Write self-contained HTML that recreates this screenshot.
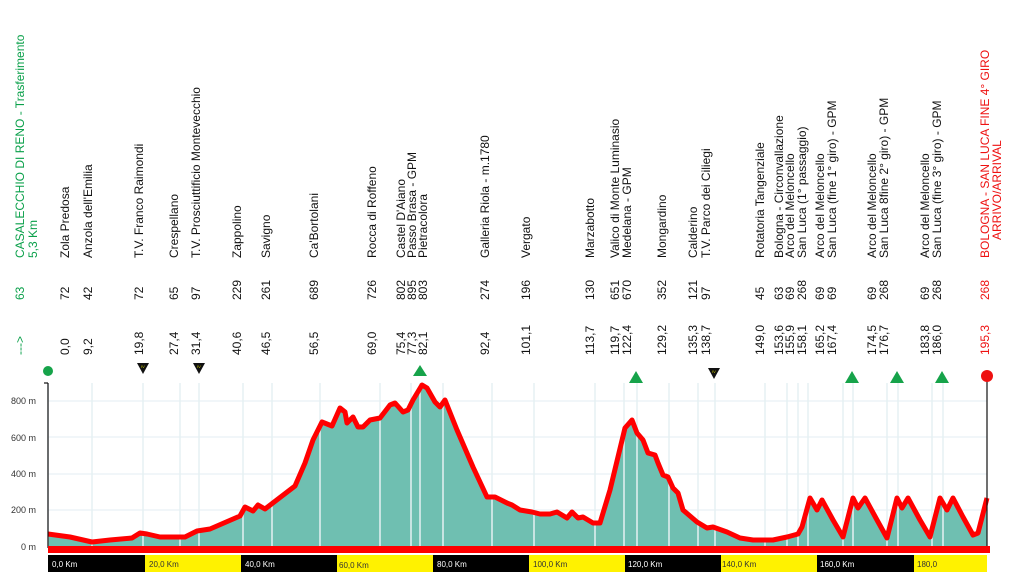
<!DOCTYPE html>
<html><head><meta charset="utf-8"><style>
html,body{margin:0;padding:0;background:#fff;}
svg{display:block;font-family:"Liberation Sans",sans-serif;}
</style></head><body>
<svg width="1024" height="579" viewBox="0 0 1024 579" xmlns="http://www.w3.org/2000/svg">
<g id="grid" stroke="#e3eef3" stroke-width="1">
<line x1="48" y1="401" x2="987" y2="401"/><line x1="48" y1="437" x2="987" y2="437"/><line x1="48" y1="474" x2="987" y2="474"/><line x1="48" y1="510" x2="987" y2="510"/>
</g>
<polygon fill="#6fbfb1" points="48,548 48,534 70,537 92,542 110,540 132,538 140,533 147,534 160,537 185,537 197,531 210,529 240,516 245,507 253,511 258,505 265,509 295,486 305,463 313,440 322,422 332,426 340,408 345,412 347,423 353,417 358,427 363,427 370,420 380,418 390,405 395,403 403,412 408,410 413,400 422,385 427,388 435,402 440,407 445,400 457,430 473,467 487,497 495,497 507,503 512,505 520,510 532,512 540,514 550,514 557,512 567,518 572,512 578,518 583,517 593,523 600,523 610,490 625,428 632,420 637,433 643,440 648,453 655,455 658,463 663,475 668,477 673,488 678,493 683,510 697,522 707,528 713,527 727,532 740,538 753,540 773,540 787,537 798,534 802,527 810,498 817,510 822,500 833,520 843,537 853,498 858,508 865,498 877,520 887,538 897,498 902,508 908,498 920,520 930,537 940,498 947,510 953,498 963,517 973,535 978,533 987,498 987,548"/>
<g stroke="#e6f0f3" stroke-width="1.5">
<line x1="48" y1="383" x2="48" y2="546"/><line x1="92" y1="383" x2="92" y2="546"/><line x1="143" y1="383" x2="143" y2="546"/><line x1="180" y1="383" x2="180" y2="546"/><line x1="199" y1="383" x2="199" y2="546"/><line x1="243" y1="383" x2="243" y2="546"/><line x1="272" y1="383" x2="272" y2="546"/><line x1="320" y1="383" x2="320" y2="546"/><line x1="380" y1="383" x2="380" y2="546"/><line x1="411" y1="383" x2="411" y2="546"/><line x1="420" y1="383" x2="420" y2="546"/><line x1="443" y1="383" x2="443" y2="546"/><line x1="492" y1="383" x2="492" y2="546"/><line x1="534" y1="383" x2="534" y2="546"/><line x1="595" y1="383" x2="595" y2="546"/><line x1="624" y1="383" x2="624" y2="546"/><line x1="637" y1="383" x2="637" y2="546"/><line x1="669" y1="383" x2="669" y2="546"/><line x1="698" y1="383" x2="698" y2="546"/><line x1="715" y1="383" x2="715" y2="546"/><line x1="765" y1="383" x2="765" y2="546"/><line x1="787" y1="383" x2="787" y2="546"/><line x1="798" y1="383" x2="798" y2="546"/><line x1="808" y1="383" x2="808" y2="546"/><line x1="843" y1="383" x2="843" y2="546"/><line x1="853" y1="383" x2="853" y2="546"/><line x1="887" y1="383" x2="887" y2="546"/><line x1="898" y1="383" x2="898" y2="546"/><line x1="932" y1="383" x2="932" y2="546"/><line x1="943" y1="383" x2="943" y2="546"/>
</g>
<polyline fill="none" stroke="#ff0000" stroke-width="5" stroke-linejoin="round" points="48,534 70,537 92,542 110,540 132,538 140,533 147,534 160,537 185,537 197,531 210,529 240,516 245,507 253,511 258,505 265,509 295,486 305,463 313,440 322,422 332,426 340,408 345,412 347,423 353,417 358,427 363,427 370,420 380,418 390,405 395,403 403,412 408,410 413,400 422,385 427,388 435,402 440,407 445,400 457,430 473,467 487,497 495,497 507,503 512,505 520,510 532,512 540,514 550,514 557,512 567,518 572,512 578,518 583,517 593,523 600,523 610,490 625,428 632,420 637,433 643,440 648,453 655,455 658,463 663,475 668,477 673,488 678,493 683,510 697,522 707,528 713,527 727,532 740,538 753,540 773,540 787,537 798,534 802,527 810,498 817,510 822,500 833,520 843,537 853,498 858,508 865,498 877,520 887,538 897,498 902,508 908,498 920,520 930,537 940,498 947,510 953,498 963,517 973,535 978,533 987,498"/>
<line x1="48" y1="383" x2="48" y2="548" stroke="#111" stroke-width="1.2"/>
<line x1="44" y1="383" x2="48" y2="383" stroke="#111" stroke-width="1.2"/>
<line x1="987" y1="376" x2="987" y2="548" stroke="#111" stroke-width="1.2"/>
<rect x="48" y="546" width="942" height="7" fill="#ff0000"/>
<g font-size="9" fill="#333" text-anchor="end">
<text x="36" y="404">800 m</text><text x="36" y="441">600 m</text><text x="36" y="477">400 m</text><text x="36" y="513">200 m</text><text x="36" y="550">0 m</text>
</g>
<g>
<rect x="48" y="555" width="97" height="17" fill="#000"/><rect x="145" y="555" width="96" height="17" fill="#fff200"/><rect x="241" y="555" width="96" height="17" fill="#000"/><rect x="337" y="555" width="96" height="17" fill="#fff200"/><rect x="433" y="555" width="96" height="17" fill="#000"/><rect x="529" y="555" width="96" height="17" fill="#fff200"/><rect x="625" y="555" width="96" height="17" fill="#000"/><rect x="721" y="555" width="96" height="17" fill="#fff200"/><rect x="817" y="555" width="97" height="17" fill="#000"/><rect x="914" y="555" width="73" height="17" fill="#fff200"/>
</g>
<g font-size="8">
<text x="52" y="567" fill="#fff">0,0 Km</text><text x="149" y="567" fill="#333">20,0 Km</text><text x="245" y="567" fill="#fff">40,0 Km</text><text x="339" y="568" fill="#333">60,0 Km</text><text x="437" y="567" fill="#fff">80,0 Km</text><text x="533" y="567" fill="#333">100,0 Km</text><text x="628" y="567" fill="#fff">120,0 Km</text><text x="722" y="567" fill="#333">140,0 Km</text><text x="820" y="567" fill="#fff">160,0 Km</text><text x="917" y="567" fill="#333">180,0</text>
</g>
<circle cx="48" cy="371" r="5" fill="#16a34a"/>
<circle cx="987" cy="376" r="6" fill="#ee1111"/>
<g fill="#16a34a">
<polygon points="413,376 427,376 420,365"/><polygon points="629,383 643,383 636,371"/><polygon points="845,383 859,383 852,371"/><polygon points="890,383 904,383 897,371"/><polygon points="935,383 949,383 942,371"/>
</g>
<g fill="#111">
<polygon points="137,363 149,363 143,374"/><polygon points="193,363 205,363 199,374"/><polygon points="708,368 720,368 714,379"/>
</g>
<g fill="#cc0" font-size="4"><text x="141" y="368">IV</text><text x="197" y="368">IV</text><text x="712" y="373">IV</text></g>
<g font-size="12" fill="#111" text-anchor="start" id="labels">
<g fill="#0aa04a">
<text transform="translate(24,258) rotate(-90)">CASALECCHIO DI RENO - Trasferimento</text>
<text transform="translate(37,258) rotate(-90)">5,3 Km</text>
<text transform="translate(24,300) rotate(-90)">63</text>
<text transform="translate(24,355) rotate(-90)">---&gt;</text>
</g>
<g>
<text transform="translate(69,258) rotate(-90)">Zola Predosa</text><text transform="translate(69,300) rotate(-90)">72</text><text transform="translate(69,355) rotate(-90)">0,0</text>
<text transform="translate(92,258) rotate(-90)">Anzola dell'Emilia</text><text transform="translate(92,300) rotate(-90)">42</text><text transform="translate(92,355) rotate(-90)">9,2</text>
<text transform="translate(143,258) rotate(-90)">T.V. Franco Raimondi</text><text transform="translate(143,300) rotate(-90)">72</text><text transform="translate(143,355) rotate(-90)">19,8</text>
<text transform="translate(178,258) rotate(-90)">Crespellano</text><text transform="translate(178,300) rotate(-90)">65</text><text transform="translate(178,355) rotate(-90)">27,4</text>
<text transform="translate(200,258) rotate(-90)">T.V. Prosciuttificio Montevecchio</text><text transform="translate(200,300) rotate(-90)">97</text><text transform="translate(200,355) rotate(-90)">31,4</text>
<text transform="translate(241,258) rotate(-90)">Zappolino</text><text transform="translate(241,300) rotate(-90)">229</text><text transform="translate(241,355) rotate(-90)">40,6</text>
<text transform="translate(270,258) rotate(-90)">Savigno</text><text transform="translate(270,300) rotate(-90)">261</text><text transform="translate(270,355) rotate(-90)">46,5</text>
<text transform="translate(318,258) rotate(-90)">Ca'Bortolani</text><text transform="translate(318,300) rotate(-90)">689</text><text transform="translate(318,355) rotate(-90)">56,5</text>
<text transform="translate(376,258) rotate(-90)">Rocca di Roffeno</text><text transform="translate(376,300) rotate(-90)">726</text><text transform="translate(376,355) rotate(-90)">69,0</text>
<text transform="translate(405,258) rotate(-90)">Castel D'Aiano</text><text transform="translate(405,300) rotate(-90)">802</text><text transform="translate(405,355) rotate(-90)">75,4</text>
<text transform="translate(416,258) rotate(-90)">Passo Brasa - GPM</text><text transform="translate(416,300) rotate(-90)">895</text><text transform="translate(416,355) rotate(-90)">77,3</text>
<text transform="translate(427,258) rotate(-90)">Pietracolora</text><text transform="translate(427,300) rotate(-90)">803</text><text transform="translate(427,355) rotate(-90)">82,1</text>
<text transform="translate(489,258) rotate(-90)">Galleria Riola - m.1780</text><text transform="translate(489,300) rotate(-90)">274</text><text transform="translate(489,355) rotate(-90)">92,4</text>
<text transform="translate(530,258) rotate(-90)">Vergato</text><text transform="translate(530,300) rotate(-90)">196</text><text transform="translate(530,355) rotate(-90)">101,1</text>
<text transform="translate(594,258) rotate(-90)">Marzabotto</text><text transform="translate(594,300) rotate(-90)">130</text><text transform="translate(594,355) rotate(-90)">113,7</text>
<text transform="translate(619,258) rotate(-90)">Valico di Monte Luminasio</text><text transform="translate(619,300) rotate(-90)">651</text><text transform="translate(619,355) rotate(-90)">119,7</text>
<text transform="translate(631,258) rotate(-90)">Medelana - GPM</text><text transform="translate(631,300) rotate(-90)">670</text><text transform="translate(631,355) rotate(-90)">122,4</text>
<text transform="translate(666,258) rotate(-90)">Mongardino</text><text transform="translate(666,300) rotate(-90)">352</text><text transform="translate(666,355) rotate(-90)">129,2</text>
<text transform="translate(697,258) rotate(-90)">Calderino</text><text transform="translate(697,300) rotate(-90)">121</text><text transform="translate(697,355) rotate(-90)">135,3</text>
<text transform="translate(710,258) rotate(-90)">T.V. Parco dei Ciliegi</text><text transform="translate(710,300) rotate(-90)">97</text><text transform="translate(710,355) rotate(-90)">138,7</text>
<text transform="translate(764,258) rotate(-90)">Rotatoria Tangenziale</text><text transform="translate(764,300) rotate(-90)">45</text><text transform="translate(764,355) rotate(-90)">149,0</text>
<text transform="translate(783,258) rotate(-90)">Bologna - Circonvallazione</text><text transform="translate(783,300) rotate(-90)">63</text><text transform="translate(783,355) rotate(-90)">153,6</text>
<text transform="translate(794,258) rotate(-90)">Arco del Meloncello</text><text transform="translate(794,300) rotate(-90)">69</text><text transform="translate(794,355) rotate(-90)">155,9</text>
<text transform="translate(806,258) rotate(-90)">San Luca (1° passaggio)</text><text transform="translate(806,300) rotate(-90)">268</text><text transform="translate(806,355) rotate(-90)">158,1</text>
<text transform="translate(824,258) rotate(-90)">Arco del Meloncello</text><text transform="translate(824,300) rotate(-90)">69</text><text transform="translate(824,355) rotate(-90)">165,2</text>
<text transform="translate(836,258) rotate(-90)">San Luca (fine 1° giro) - GPM</text><text transform="translate(836,300) rotate(-90)">69</text><text transform="translate(836,355) rotate(-90)">167,4</text>
<text transform="translate(876,258) rotate(-90)">Arco del Meloncello</text><text transform="translate(876,300) rotate(-90)">69</text><text transform="translate(876,355) rotate(-90)">174,5</text>
<text transform="translate(888,258) rotate(-90)">San Luca 8fine 2° giro) - GPM</text><text transform="translate(888,300) rotate(-90)">268</text><text transform="translate(888,355) rotate(-90)">176,7</text>
<text transform="translate(929,258) rotate(-90)">Arco del Meloncello</text><text transform="translate(929,300) rotate(-90)">69</text><text transform="translate(929,355) rotate(-90)">183,8</text>
<text transform="translate(941,258) rotate(-90)">San Luca (fine 3° giro) - GPM</text><text transform="translate(941,300) rotate(-90)">268</text><text transform="translate(941,355) rotate(-90)">186,0</text>
</g>
<g fill="#ee1111">
<text transform="translate(989,258) rotate(-90)">BOLOGNA - SAN LUCA FINE 4° GIRO</text>
<text transform="translate(1001,240) rotate(-90)">ARRIVO/ARRIVAL</text>
<text transform="translate(989,300) rotate(-90)">268</text>
<text transform="translate(989,355) rotate(-90)">195,3</text>
</g>
</g>
</svg>
</body></html>
